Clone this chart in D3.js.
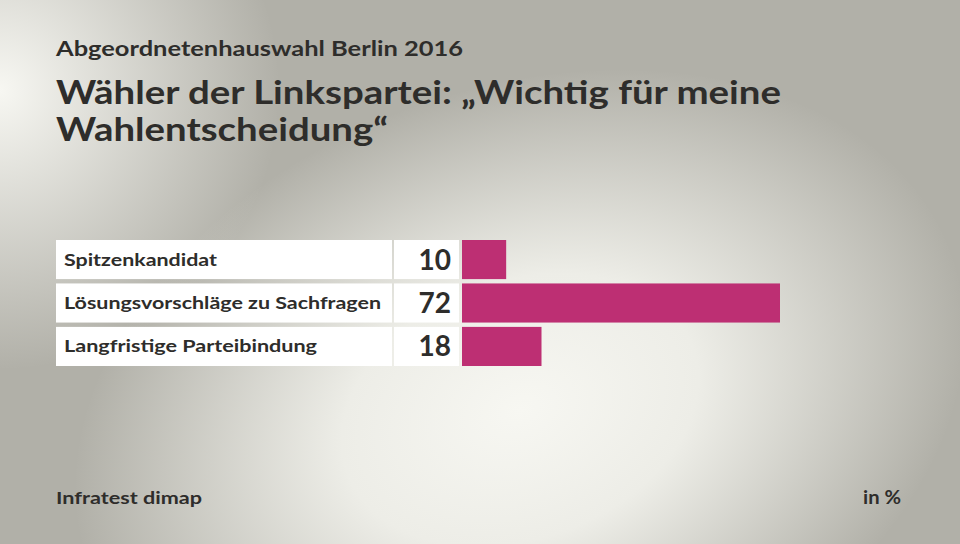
<!DOCTYPE html>
<html lang="de">
<head>
<meta charset="UTF-8">
<script src="https://d3js.org/d3.v7.min.js"></script>
<style>
  body { margin: 0; padding: 0; overflow: hidden; }
  svg { display: block; font-family: "Lato", "Open Sans", sans-serif; }
</style>
</head>
<body>
<div id="app"></div>
<script>
const categories = ['Spitzenkandidat', 'Lösungsvorschläge zu Sachfragen', 'Langfristige Parteibindung'];
const values = [10, 72, 18];
const labelWidths = [153, 317, 253];

const width = 960;
const height = 544;

const svg = d3.select('#app').append('svg')
  .attr('width', width)
  .attr('height', height);

// background
const defs = svg.append('defs');
const g1 = defs.append('radialGradient').attr('id', 'bg1')
  .attr('gradientUnits', 'userSpaceOnUse')
  .attr('cx', 520).attr('cy', 410).attr('r', 460)
  .attr('gradientTransform', 'translate(520,410) rotate(-20) scale(1,0.7) translate(-520,-410)');
g1.append('stop').attr('offset', '0%').attr('stop-color', '#f7f7f2');
g1.append('stop').attr('offset', '40%').attr('stop-color', '#ededE7');
g1.append('stop').attr('offset', '100%').attr('stop-color', '#f0f0ea').attr('stop-opacity', 0);
const g2 = defs.append('radialGradient').attr('id', 'bg2')
  .attr('gradientUnits', 'userSpaceOnUse')
  .attr('cx', 0).attr('cy', 90).attr('r', 280);
g2.append('stop').attr('offset', '0%').attr('stop-color', '#f7f7f2');
g2.append('stop').attr('offset', '100%').attr('stop-color', '#f7f7f2').attr('stop-opacity', 0);

svg.append('rect').attr('width', width).attr('height', height).attr('fill', '#b1b0a8');
svg.append('rect').attr('width', width).attr('height', height).attr('fill', 'url(#bg1)');
svg.append('rect').attr('width', width).attr('height', height).attr('fill', 'url(#bg2)');

const textColor = '#2e2d2b';

svg.append('text')
  .attr('x', 56).attr('y', 56)
  .attr('font-size', 21).attr('font-weight', 'bold').attr('fill', textColor)
  .attr('textLength', 407).attr('lengthAdjust', 'spacingAndGlyphs')
  .text('Abgeordnetenhauswahl Berlin 2016');

svg.append('text')
  .attr('x', 56).attr('y', 104)
  .attr('font-size', 32).attr('font-weight', 'bold').attr('fill', textColor)
  .attr('textLength', 725).attr('lengthAdjust', 'spacingAndGlyphs')
  .text('Wähler der Linkspartei: „Wichtig für meine');

svg.append('text')
  .attr('x', 56).attr('y', 141)
  .attr('font-size', 32).attr('font-weight', 'bold').attr('fill', textColor)
  .attr('textLength', 332).attr('lengthAdjust', 'spacingAndGlyphs')
  .text('Wahlentscheidung“');

// bars
const y = d3.scaleBand()
  .domain(categories)
  .range([240, 366])
  .paddingInner(0.1)
  .paddingOuter(0);

const x = d3.scaleLinear()
  .domain([0, 72])
  .range([462, 780]);

const rows = svg.append('g').selectAll('g')
  .data(categories)
  .enter()
  .append('g');

rows.append('rect')
  .attr('x', 56)
  .attr('y', d => y(d))
  .attr('width', 336)
  .attr('height', y.bandwidth())
  .attr('fill', '#ffffff');

rows.append('rect')
  .attr('x', 394)
  .attr('y', d => y(d))
  .attr('width', 65)
  .attr('height', y.bandwidth())
  .attr('fill', '#ffffff');

rows.append('rect')
  .attr('x', x(0))
  .attr('y', d => y(d))
  .attr('width', (d, i) => x(values[i]) - x(0))
  .attr('height', y.bandwidth())
  .attr('fill', '#bd2f73');

rows.append('text')
  .attr('x', 64)
  .attr('y', d => y(d) + y.bandwidth() / 2 + 6)
  .attr('font-size', 17).attr('font-weight', 'bold').attr('fill', textColor)
  .attr('textLength', (d, i) => labelWidths[i]).attr('lengthAdjust', 'spacingAndGlyphs')
  .text(d => d);

rows.append('text')
  .attr('x', 451)
  .attr('y', d => y(d) + y.bandwidth() / 2 + 10)
  .attr('text-anchor', 'end')
  .attr('font-size', 28).attr('font-weight', 'bold').attr('fill', textColor)
  .text((d, i) => values[i]);

// footer
svg.append('text')
  .attr('x', 56).attr('y', 504)
  .attr('font-size', 17).attr('font-weight', 'bold').attr('fill', textColor)
  .attr('textLength', 146).attr('lengthAdjust', 'spacingAndGlyphs')
  .text('Infratest dimap');

svg.append('text')
  .attr('x', 901).attr('y', 504)
  .attr('text-anchor', 'end')
  .attr('font-size', 18).attr('font-weight', 'bold').attr('fill', textColor)
  .attr('textLength', 38).attr('lengthAdjust', 'spacingAndGlyphs')
  .text('in %');
</script>
</body>
</html>
